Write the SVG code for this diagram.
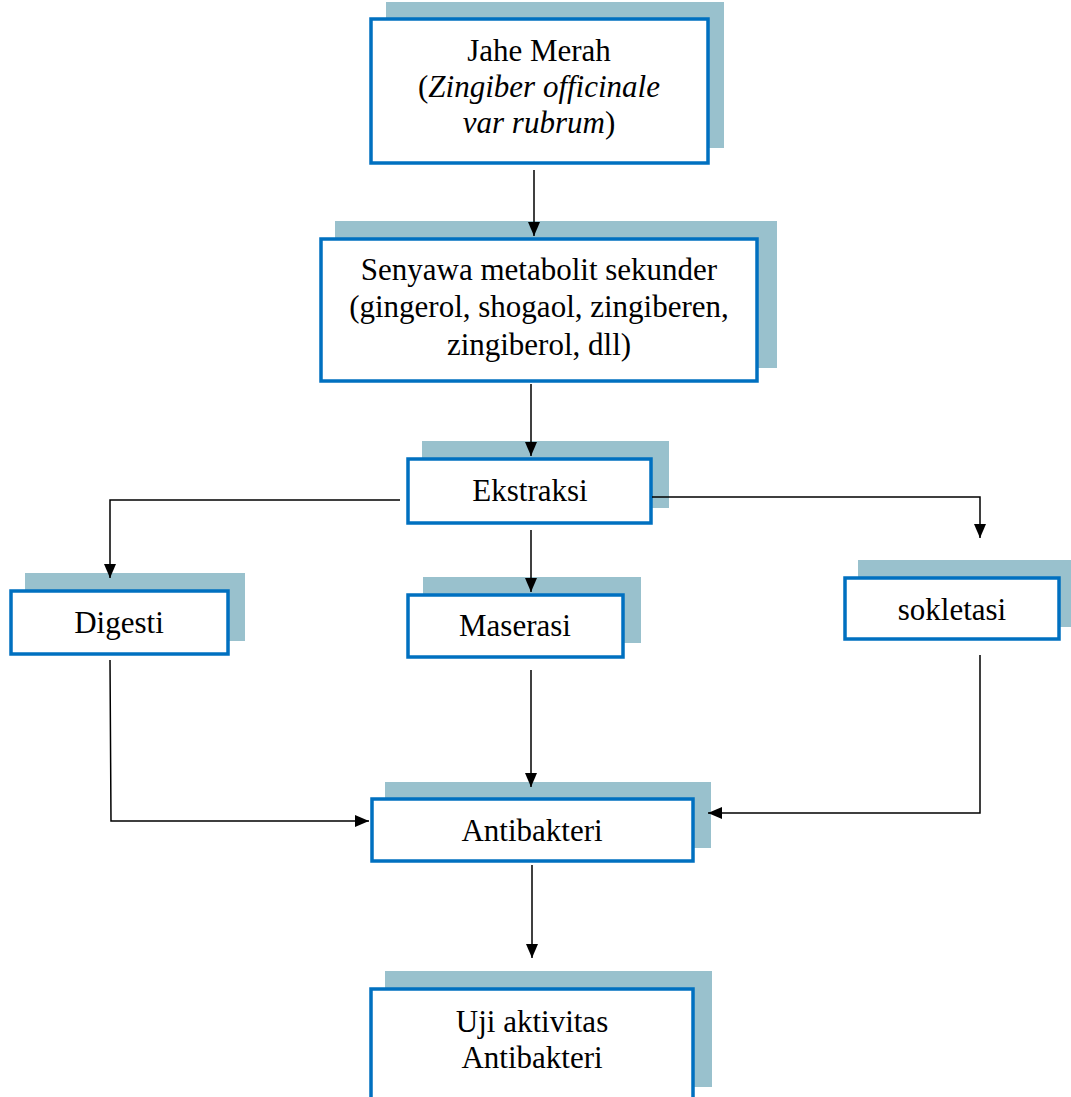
<svg xmlns="http://www.w3.org/2000/svg" width="1071" height="1097" viewBox="0 0 1071 1097">
<style>
.sh{fill:#99C1CD;stroke:none}
.bx{fill:#fff;stroke:#0070C0;stroke-width:3.5}
.t{font-family:"Liberation Serif","Times New Roman",serif;font-size:31px;fill:#000;text-anchor:middle}
.c{fill:none;stroke:#000;stroke-width:1.5}
</style>
<defs>
<marker id="ah2" viewBox="0 0 14 12" refX="14" refY="6" markerWidth="14" markerHeight="12" markerUnits="userSpaceOnUse" orient="auto">
<path d="M0,0 L14,6 L0,12 Z" fill="#000"/>
</marker>
</defs>
<g id="jahe">
<rect class="sh" x="386" y="2" width="338" height="146"/>
<rect class="bx" x="371" y="19" width="337" height="144"/>
<text class="t" x="539" y="61">Jahe Merah</text>
<text class="t" x="539" y="97">(<tspan font-style="italic">Zingiber officinale</tspan></text>
<text class="t" x="539" y="133"><tspan font-style="italic">var rubrum</tspan>)</text>
</g>
<g id="senyawa">
<rect class="sh" x="335" y="221" width="442" height="147"/>
<rect class="bx" x="321" y="239" width="436" height="142"/>
<text class="t" x="539" y="280">Senyawa metabolit sekunder</text>
<text class="t" x="539" y="317">(gingerol, shogaol, zingiberen,</text>
<text class="t" x="539" y="355">zingiberol, dll)</text>
</g>
<g id="ekstraksi">
<rect class="sh" x="422" y="441" width="247" height="67"/>
<rect class="bx" x="408" y="459" width="243" height="64"/>
<text class="t" x="530" y="501">Ekstraksi</text>
</g>
<g id="digesti">
<rect class="sh" x="25" y="573" width="220" height="68"/>
<rect class="bx" x="11" y="591" width="217" height="63"/>
<text class="t" x="119" y="633">Digesti</text>
</g>
<g id="maserasi">
<rect class="sh" x="423" y="577" width="218" height="66"/>
<rect class="bx" x="408" y="595" width="215" height="62"/>
<text class="t" x="515" y="636">Maserasi</text>
</g>
<g id="sokletasi">
<rect class="sh" x="858" y="560" width="213" height="67"/>
<rect class="bx" x="845" y="578" width="214" height="61"/>
<text class="t" x="952" y="620">sokletasi</text>
</g>
<g id="antibakteri">
<rect class="sh" x="385" y="782" width="326" height="66"/>
<rect class="bx" x="372" y="799" width="321" height="62"/>
<text class="t" x="532" y="841">Antibakteri</text>
</g>
<g id="uji">
<rect class="sh" x="385" y="971" width="327" height="116"/>
<rect class="bx" x="371" y="989" width="322" height="120"/>
<text class="t" x="532" y="1032">Uji aktivitas</text>
<text class="t" x="532" y="1068">Antibakteri</text>
</g>
<g id="connectors">
<line class="c" x1="534" y1="170" x2="534" y2="236" marker-end="url(#ah2)"/>
<line class="c" x1="531" y1="384" x2="531" y2="456" marker-end="url(#ah2)"/>
<polyline class="c" points="400,500 110,500 110,578" marker-end="url(#ah2)"/>
<polyline class="c" points="652,497 980,497 980,538" marker-end="url(#ah2)"/>
<line class="c" x1="531" y1="530" x2="531" y2="592" marker-end="url(#ah2)"/>
<polyline class="c" points="110,660 111,821 369,821" marker-end="url(#ah2)"/>
<polyline class="c" points="980,655 980,813 708,813" marker-end="url(#ah2)"/>
<line class="c" x1="531" y1="670" x2="531" y2="787" marker-end="url(#ah2)"/>
<line class="c" x1="532" y1="865" x2="532" y2="958" marker-end="url(#ah2)"/>
</g>
</svg>
